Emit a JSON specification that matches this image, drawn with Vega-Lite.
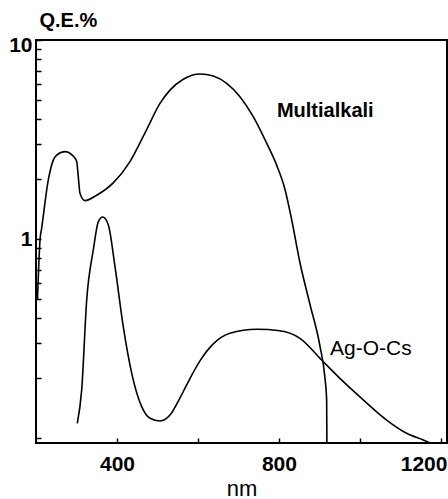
{
  "$schema": "https://vega.github.io/schema/vega-lite/v6.json",
  "width": 411,
  "height": 403,
  "autosize": "none",
  "padding": {"left": 36, "top": 40, "right": 1, "bottom": 56},
  "background": "white",
  "config": {
    "view": {"stroke": "black", "strokeWidth": 2},
    "font": "Liberation Sans",
    "axis": {"labelColor": "black", "titleColor": "black", "tickColor": "black", "grid": false, "domain": false}
  },
  "datasets": {
    "curves": [
      {"cathode": "Multialkali", "nm": 203.7, "qe": 0.5},
      {"cathode": "Multialkali", "nm": 209.9, "qe": 0.989},
      {"cathode": "Multialkali", "nm": 214.1, "qe": 1.136},
      {"cathode": "Multialkali", "nm": 230.4, "qe": 1.98},
      {"cathode": "Multialkali", "nm": 242.7, "qe": 2.49},
      {"cathode": "Multialkali", "nm": 251.1, "qe": 2.64},
      {"cathode": "Multialkali", "nm": 271.6, "qe": 2.75},
      {"cathode": "Multialkali", "nm": 292.1, "qe": 2.61},
      {"cathode": "Multialkali", "nm": 300.5, "qe": 2.45},
      {"cathode": "Multialkali", "nm": 304.4, "qe": 2.06},
      {"cathode": "Multialkali", "nm": 308.6, "qe": 1.7},
      {"cathode": "Multialkali", "nm": 321.0, "qe": 1.56},
      {"cathode": "Multialkali", "nm": 349.9, "qe": 1.66},
      {"cathode": "Multialkali", "nm": 390.1, "qe": 1.91},
      {"cathode": "Multialkali", "nm": 432.1, "qe": 2.45},
      {"cathode": "Multialkali", "nm": 473.3, "qe": 3.55},
      {"cathode": "Multialkali", "nm": 506.2, "qe": 4.8},
      {"cathode": "Multialkali", "nm": 530.9, "qe": 5.6},
      {"cathode": "Multialkali", "nm": 563.7, "qe": 6.35},
      {"cathode": "Multialkali", "nm": 604.9, "qe": 6.75},
      {"cathode": "Multialkali", "nm": 637.8, "qe": 6.59},
      {"cathode": "Multialkali", "nm": 670.9, "qe": 6.06},
      {"cathode": "Multialkali", "nm": 703.7, "qe": 5.19},
      {"cathode": "Multialkali", "nm": 736.5, "qe": 4.12},
      {"cathode": "Multialkali", "nm": 769.6, "qe": 3.03},
      {"cathode": "Multialkali", "nm": 794.3, "qe": 2.35},
      {"cathode": "Multialkali", "nm": 814.8, "qe": 1.78},
      {"cathode": "Multialkali", "nm": 831.4, "qe": 1.25},
      {"cathode": "Multialkali", "nm": 851.9, "qe": 0.76},
      {"cathode": "Multialkali", "nm": 876.5, "qe": 0.47},
      {"cathode": "Multialkali", "nm": 901.2, "qe": 0.29},
      {"cathode": "Multialkali", "nm": 913.6, "qe": 0.2},
      {"cathode": "Multialkali", "nm": 917.8, "qe": 0.155},
      {"cathode": "Multialkali", "nm": 918.4, "qe": 0.0945},
      {"cathode": "Ag-O-Cs", "nm": 302.0, "qe": 0.1185},
      {"cathode": "Ag-O-Cs", "nm": 312.8, "qe": 0.174},
      {"cathode": "Ag-O-Cs", "nm": 325.2, "qe": 0.494},
      {"cathode": "Ag-O-Cs", "nm": 341.5, "qe": 0.881},
      {"cathode": "Ag-O-Cs", "nm": 353.8, "qe": 1.22},
      {"cathode": "Ag-O-Cs", "nm": 364.7, "qe": 1.29},
      {"cathode": "Ag-O-Cs", "nm": 378.5, "qe": 1.18},
      {"cathode": "Ag-O-Cs", "nm": 395.1, "qe": 0.726},
      {"cathode": "Ag-O-Cs", "nm": 415.6, "qe": 0.362},
      {"cathode": "Ag-O-Cs", "nm": 436.3, "qe": 0.212},
      {"cathode": "Ag-O-Cs", "nm": 461.0, "qe": 0.1437},
      {"cathode": "Ag-O-Cs", "nm": 481.5, "qe": 0.1256},
      {"cathode": "Ag-O-Cs", "nm": 506.2, "qe": 0.1218},
      {"cathode": "Ag-O-Cs", "nm": 530.9, "qe": 0.1305},
      {"cathode": "Ag-O-Cs", "nm": 555.6, "qe": 0.159},
      {"cathode": "Ag-O-Cs", "nm": 572.1, "qe": 0.185},
      {"cathode": "Ag-O-Cs", "nm": 604.9, "qe": 0.244},
      {"cathode": "Ag-O-Cs", "nm": 637.8, "qe": 0.297},
      {"cathode": "Ag-O-Cs", "nm": 679.0, "qe": 0.336},
      {"cathode": "Ag-O-Cs", "nm": 744.9, "qe": 0.352},
      {"cathode": "Ag-O-Cs", "nm": 802.5, "qe": 0.346},
      {"cathode": "Ag-O-Cs", "nm": 851.9, "qe": 0.317},
      {"cathode": "Ag-O-Cs", "nm": 905.4, "qe": 0.2466},
      {"cathode": "Ag-O-Cs", "nm": 950.6, "qe": 0.1995},
      {"cathode": "Ag-O-Cs", "nm": 1000.0, "qe": 0.161},
      {"cathode": "Ag-O-Cs", "nm": 1065.9, "qe": 0.1231},
      {"cathode": "Ag-O-Cs", "nm": 1115.3, "qe": 0.1056},
      {"cathode": "Ag-O-Cs", "nm": 1156.3, "qe": 0.0977},
      {"cathode": "Ag-O-Cs", "nm": 1172.8, "qe": 0.0945}
    ],
    "labels": [
      {"text": "Multialkali", "nm": 795, "qe": 4.1},
      {"text": "Ag-O-Cs", "nm": 926, "qe": 0.261}
    ]
  },
  "layer": [
    {
      "data": {"name": "curves"},
      "mark": {"type": "line", "color": "black", "strokeWidth": 1.6, "interpolate": "monotone", "clip": true},
      "encoding": {
        "x": {
          "field": "nm", "type": "quantitative",
          "scale": {"domain": [200, 1215], "nice": false, "zero": false},
          "axis": {
            "values": [400, 600, 800, 1000, 1200],
            "format": "d",
            "labelExpr": "datum.value == 600 || datum.value == 1000 ? '' : datum.label",
            "labelFontSize": 21,
            "labelFontWeight": "bold",
            "labelPadding": 15,
            "tickSize": -5,
            "tickWidth": 1.5,
            "labelAlign": {"condition": {"test": "datum.value == 1200", "value": "right"}, "value": "center"},
            "labelOffset": {"condition": {"test": "datum.value == 1200", "value": 6}, "value": 0},
            "title": "nm",
            "titleFontSize": 22,
            "titleFontWeight": "normal",
            "titleBaseline": "alphabetic",
            "titleY": 52
          }
        },
        "y": {
          "field": "qe", "type": "quantitative",
          "scale": {"type": "log", "domain": [0.0944, 10], "nice": false},
          "axis": {
            "values": [0.1, 0.2, 0.3, 0.4, 0.5, 0.6, 0.7, 0.8, 0.9, 1, 2, 3, 4, 5, 6, 7, 8, 9, 10],
            "labelExpr": "datum.value == 1 ? '1' : datum.value == 10 ? '10' : ''",
            "labelFontSize": 21,
            "labelFontWeight": "bold",
            "labelPadding": 9,
            "tickSize": -5,
            "tickWidth": 1.5,
            "labelOffset": {"condition": {"test": "datum.value == 10", "value": 5}, "value": 0},
            "title": "Q.E.%",
            "titleAngle": 0,
            "titleFontSize": 20,
            "titleFontWeight": "bold",
            "titleAlign": "left",
            "titleBaseline": "alphabetic",
            "titleX": 3,
            "titleY": -14
          }
        },
        "detail": {"field": "cathode"}
      }
    },
    {
      "data": {"name": "labels"},
      "transform": [{"filter": "datum.text == 'Multialkali'"}],
      "mark": {"type": "text", "align": "left", "baseline": "alphabetic", "color": "black", "fontSize": 20, "fontWeight": "bold"},
      "encoding": {
        "x": {"field": "nm", "type": "quantitative"},
        "y": {"field": "qe", "type": "quantitative"},
        "text": {"field": "text"}
      }
    },
    {
      "data": {"name": "labels"},
      "transform": [{"filter": "datum.text == 'Ag-O-Cs'"}],
      "mark": {"type": "text", "align": "left", "baseline": "alphabetic", "color": "black", "fontSize": 21},
      "encoding": {
        "x": {"field": "nm", "type": "quantitative"},
        "y": {"field": "qe", "type": "quantitative"},
        "text": {"field": "text"}
      }
    }
  ]
}
